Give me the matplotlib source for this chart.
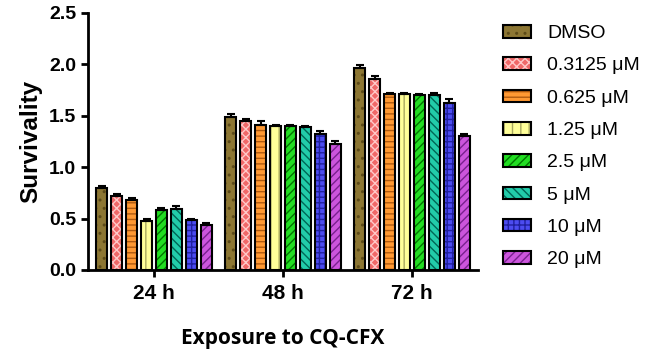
import numpy as np
import matplotlib.pyplot as plt
from matplotlib.patches import Patch
from matplotlib.legend_handler import HandlerTuple

plt.rcParams['font.family'] = ['Liberation Sans', 'DejaVu Sans']
plt.rcParams['hatch.linewidth'] = 1.0

### data
groups = ["24 h", "48 h", "72 h"]
labels = ["DMSO", "0.3125 \u03bcM", "0.625 \u03bcM", "1.25 \u03bcM",
          "2.5 \u03bcM", "5 \u03bcM", "10 \u03bcM", "20 \u03bcM"]
dmso = [0.80, 1.49, 1.96]
c0_3125 = [0.72, 1.45, 1.86]
c0_625 = [0.68, 1.41, 1.71]
c1_25 = [0.48, 1.40, 1.71]
c2_5 = [0.58, 1.40, 1.70]
c5 = [0.59, 1.39, 1.70]
c10 = [0.49, 1.32, 1.62]
c20 = [0.44, 1.23, 1.30]
err = [[0.02, 0.03, 0.03],
       [0.02, 0.02, 0.03],
       [0.02, 0.04, 0.01],
       [0.02, 0.01, 0.01],
       [0.02, 0.01, 0.01],
       [0.03, 0.01, 0.02],
       [0.01, 0.03, 0.04],
       [0.02, 0.02, 0.02]]

series = [dmso, c0_3125, c0_625, c1_25, c2_5, c5, c10, c20]
fills = ["#8c7633", "#f06868", "#ff9933", "#ffff99", "#22dd22", "#22ccaa", "#4c4cf0", "#cc55dd"]
hcols = ["#5c4a18", "#ffc8c8", "#b05a10", "#a8a860", "#007700", "#006655", "#2020a0", "#7a2090"]
hatches = ["..", "xxxx", "---", "||", "////", "\\\\\\\\", "+++", "////"]

fig = plt.figure(figsize=(6.64, 3.51), dpi=100)
ax = fig.add_axes([0.1325, 0.2308, 0.5874, 0.7322])

x = np.arange(len(groups))
step = 0.116
width = 0.088
handles = []
for i, vals in enumerate(series):
    pos = x + (i - 3.5) * step
    ax.bar(pos, vals, width, color=fills[i], edgecolor=hcols[i], hatch=hatches[i], linewidth=0, zorder=2)
    ax.bar(pos, vals, width, fill=False, edgecolor="black", linewidth=1.5, zorder=3)
    ax.errorbar(pos, vals, yerr=[np.zeros(3), err[i]], fmt="none", ecolor="black",
                elinewidth=1.5, capsize=3, capthick=1.5, zorder=4)
    h1 = Patch(facecolor=fills[i], edgecolor=hcols[i], hatch=hatches[i], linewidth=0)
    h2 = Patch(fill=False, edgecolor="black", linewidth=1.5)
    handles.append((h1, h2))

ax.set_xlim(-0.512, 2.512)
ax.set_ylim(0, 2.5)
ax.set_yticks([0, 0.5, 1.0, 1.5, 2.0, 2.5])
ax.set_yticklabels(["0.0", "0.5", "1.0", "1.5", "2.0", "2.5"])
ax.set_xticks(x)
ax.set_xticklabels(groups)
for lab in ax.get_yticklabels():
    lab.set_fontweight("bold")
    lab.set_fontsize(14)
for lab in ax.get_xticklabels():
    lab.set_fontweight("bold")
    lab.set_fontsize(15)
ax.tick_params(width=2, length=5)
ax.tick_params(axis="x", pad=5)
for s in ["top", "right"]:
    ax.spines[s].set_visible(False)
for s in ["left", "bottom"]:
    ax.spines[s].set_linewidth(2)

ax.set_ylabel("Survivality", fontsize=17.5, fontweight="bold", labelpad=5)
ax.set_xlabel("Exposure to CQ-CFX", fontsize=15, fontweight="bold", labelpad=18,
              family=["Open Sans", "DejaVu Sans"])

fig.legend(handles, labels, handler_map={tuple: HandlerTuple(ndivide=1)},
           loc="upper left", bbox_to_anchor=(0.746, 0.951), frameon=False,
           fontsize=14, handlelength=1.44, handleheight=0.62,
           labelspacing=0.78, handletextpad=0.82, borderaxespad=0)

fig.savefig("out.png", dpi=100)
